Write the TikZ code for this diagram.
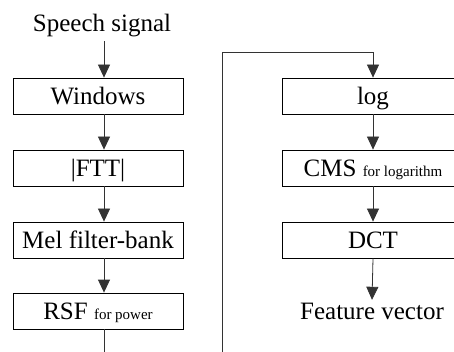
\documentclass[tikz,border=0pt]{standalone}
\usepackage{fontspec}
\setmainfont{Liberation Serif}
\usetikzlibrary{arrows.meta}
\begin{document}
\begin{tikzpicture}[x=1pt,y=-1pt,
  stage/.style={draw=black,line width=0.8pt,rectangle,minimum height=36pt,
    inner sep=0pt,text height=17pt,text depth=0pt,
    font=\fontsize{25}{30}\selectfont},
  leftstage/.style={stage,minimum width=170pt},
  rightstage/.style={stage,minimum width=182pt},
  label/.style={inner sep=0pt,font=\fontsize{25}{30}\selectfont},
  small/.style={font=\fontsize{15}{18}\selectfont},
  link/.style={draw=black!80,line width=0.8pt},
  arr/.style={link,-{Triangle[length=13pt,width=12pt]}}]
\useasboundingbox (0,0) rectangle (454,352);
\begin{scope}
\clip (0,0) rectangle (454,352);

% left column
\node[label,text height=17pt,text depth=5pt] (speech) at (102,26) {Speech signal};
\node[leftstage] (win) at (98,96) {Windows};
\node[leftstage] (fft) at (98,168) {|FTT|};
\node[leftstage] (mel) at (98,240) {Mel filter-bank};
\node[leftstage] (rsf) at (98,311) {RSF {\fontsize{15}{18}\selectfont for power}};

% right column
\node[rightstage] (log) at (373,96) {log};
\node[rightstage] (cms) at (373,168) {CMS {\fontsize{15}{18}\selectfont for logarithm}};
\node[rightstage] (dct) at (373,240) {DCT};
\node[label,text height=17pt,text depth=5pt] (feat) at (372,313) {Feature vector};

% helper points
\coordinate (lc) at (104,0);
\coordinate (lend) at (104,352);
\coordinate (rbot) at (222,352);
\coordinate (rtop) at (222,52);

% connectors
\draw[arr] ([yshift=-4pt]speech.south -| lc) -- (win.north -| lc);
\draw[arr] (win.south -| lc) -- (fft.north -| lc);
\draw[arr] (fft.south -| lc) -- (mel.north -| lc);
\draw[arr] (mel.south -| lc) -- (rsf.north -| lc);
\draw[link] (rsf.south -| lc) -- (lend);
\draw[arr] (rbot) -- (rtop) -| (log.north);
\draw[arr] (log.south) -- (cms.north);
\draw[arr] (cms.south) -- (dct.north);
\draw[arr] (dct.south) -- ([yshift=2pt]feat.north);
\end{scope}
\end{tikzpicture}
\end{document}
